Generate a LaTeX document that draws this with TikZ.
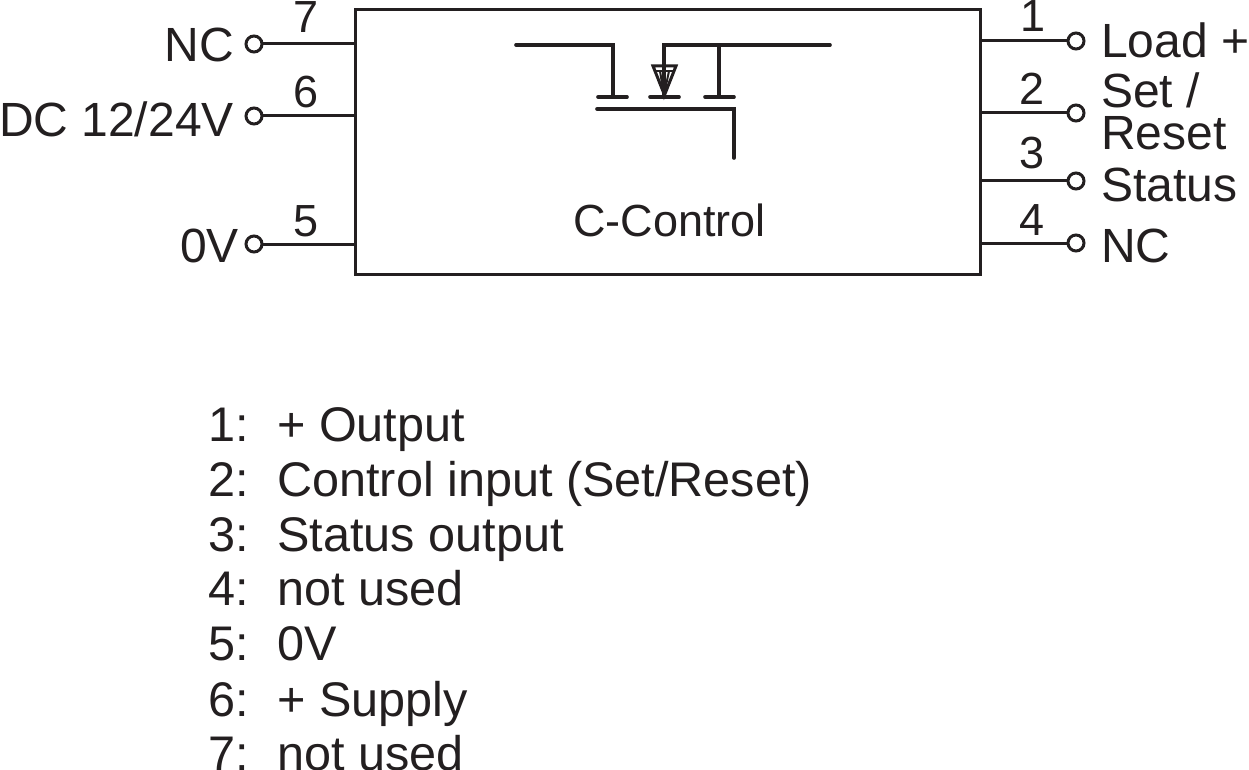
\documentclass[tikz,border=0pt]{standalone}
\usepackage{fontspec}
\setmainfont{Liberation Sans}
\newcommand{\lab}{\fontsize{48}{48}\selectfont}
\newcommand{\num}{\fontsize{45}{45}\selectfont}
\newcommand{\leg}{\fontsize{48.6}{48.6}\selectfont}
\definecolor{ink}{HTML}{231F20}
\tikzset{
  wire/.style={draw=ink,line width=3pt},
  term/.style={circle,draw=ink,line width=3pt,fill=white,minimum size=16pt,inner sep=0pt,outer sep=0pt},
  txt/.style={inner sep=0pt,text=ink},
  fet/.style={draw=ink,line width=3.6pt,line cap=round,line join=miter},
}
\begin{document}
\begin{tikzpicture}[x=1pt,y=-1pt]
\useasboundingbox (0,0) rectangle (1249,770);
\fill[white] (0,0) rectangle (1249,770);
% package
\node[wire,rectangle,minimum width=625pt,minimum height=264pt,inner sep=0pt,outer sep=0pt,anchor=north west] (box) at (355,10) {};
% left terminals
\node[term] (t7) at (254,44) {};
\node[term] (t6) at (254,116) {};
\node[term] (t5) at (254,244) {};
\coordinate (b7) at (box.west |- t7);
\coordinate (b6) at (box.west |- t6);
\coordinate (b5) at (box.west |- t5);
\draw[wire] (t7) -- (b7);
\draw[wire] (t6) -- (b6);
\draw[wire] (t5) -- (b5);
% right terminals
\node[term] (t1) at (1076,41) {};
\node[term] (t2) at (1076,113) {};
\node[term] (t3) at (1076,181) {};
\node[term] (t4) at (1076,243) {};
\coordinate (b1) at (box.east |- t1);
\coordinate (b2) at (box.east |- t2);
\coordinate (b3) at (box.east |- t3);
\coordinate (b4) at (box.east |- t4);
\draw[wire] (b1) -- (t1);
\draw[wire] (b2) -- (t2);
\draw[wire] (b3) -- (t3);
\draw[wire] (b4) -- (t4);
% pin numbers
\node[txt,anchor=base] (n7) at (306,33) {\num 7};
\node[txt,anchor=base] (n6) at (306,108) {\num 6};
\node[txt,anchor=base] (n5) at (306,236) {\num 5};
\node[txt,anchor=base] (n1) at (1033,32) {\num 1};
\node[txt,anchor=base] (n2) at (1032,105) {\num 2};
\node[txt,anchor=base] (n3) at (1032,169) {\num 3};
\node[txt,anchor=base] (n4) at (1032,235) {\num 4};
% terminal labels
\node[txt,anchor=base east] (lnc) at (234,62) {\lab NC};
\node[txt,anchor=base east] (ldc) at (234,137) {\lab DC 12/24V};
\node[txt,anchor=base east] (l0v) at (239,262) {\lab 0V};
\node[txt,anchor=base west] (lload) at (1101,58) {\lab Load +};
\node[txt,anchor=base west] (lset) at (1101,108) {\lab Set /};
\node[txt,anchor=base west] (lreset) at (1101,150) {\lab Reset};
\node[txt,anchor=base west] (lstat) at (1101,201) {\lab Status};
\node[txt,anchor=base west] (lnc2) at (1101,262) {\lab NC};
% MOSFET symbol
\draw[fet] (516,45) -- (613,45) -- (613,97);
\draw[fet] (598,97) -- (627,97);
\draw[fet] (830,45) -- (664,45) -- (664,97);
\draw[fet] (650,97) -- (679,97);
\draw[fet] (719,45) -- (719,97);
\draw[fet] (705,97) -- (734,97);
\draw[fet] (597,109) -- (734,109) -- (734,158);
\draw[draw=ink,line width=3pt,line join=miter] (653,66) -- (676,66) -- (664.5,95) -- cycle;
\draw[draw=ink,line width=2pt] (655,71) -- (674,71);
\draw[draw=ink,line width=2pt] (660,71) -- (664,95) -- (669,71);
% title
\node[txt,anchor=base] (title) at (669.5,236) {\fontsize{45}{45}\selectfont C-Control};
% legend
\node[txt,anchor=base west] (k1) at (208,441) {\leg 1:};
\node[txt,anchor=base west] (k2) at (208,496) {\leg 2:};
\node[txt,anchor=base west] (k3) at (208,551) {\leg 3:};
\node[txt,anchor=base west] (k4) at (208,605) {\leg 4:};
\node[txt,anchor=base west] (k5) at (208,660) {\leg 5:};
\node[txt,anchor=base west] (k6) at (208,716) {\leg 6:};
\node[txt,anchor=base west] (k7) at (208,770) {\leg 7:};
\node[txt,anchor=base west] (v1) at (277,441) {\leg + Output};
\node[txt,anchor=base west] (v2) at (277,496) {\leg Control input (Set/Reset)};
\node[txt,anchor=base west] (v3) at (277,551) {\leg Status output};
\node[txt,anchor=base west] (v4) at (277,605) {\leg not used};
\node[txt,anchor=base west] (v5) at (277,660) {\leg 0V};
\node[txt,anchor=base west] (v6) at (277,716) {\leg + Supply};
\node[txt,anchor=base west] (v7) at (277,770) {\leg not used};
\end{tikzpicture}
\end{document}
